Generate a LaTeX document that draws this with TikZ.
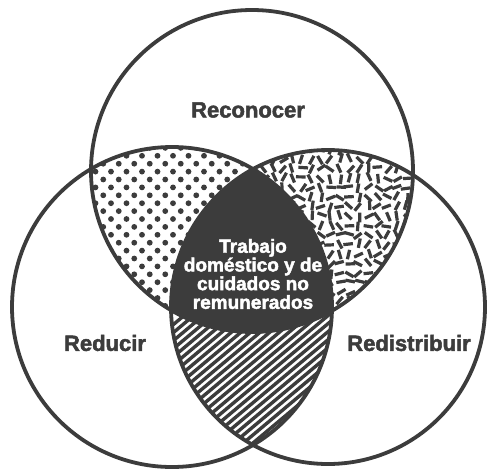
\documentclass[tikz,border=0pt]{standalone}
\usepackage{fontspec}
\setmainfont{Liberation Sans}[BoldFeatures = {FakeBold = 2.2}]

\definecolor{venngray}{HTML}{3C3C3C}

\newcommand{\toprad}{161}
\newcommand{\leftrad}{160}
\newcommand{\rightrad}{157}

\begin{document}
\begin{tikzpicture}[x = 1pt, y = -1pt,
        ring/.style = {draw = venngray, line width = 3.8pt},
        dot/.style = {fill = venngray},
        sprinkle/.style = {draw = venngray, line width = 3.2pt},
        hatchline/.style = {draw = venngray, line width = 3.4pt},
        setname/.style = {text = venngray, font = \bfseries\fontsize{22}{24}\selectfont},
        core/.style = {text = white, align = center, font = \bfseries\fontsize{19}{18.7}\selectfont}]
    \useasboundingbox (0, 0) rectangle (487, 469);

    \coordinate (top) at (252, 171);
    \coordinate (left) at (172, 307);
    \coordinate (right) at (328, 307);

    % dotted lens
    \begin{scope}
        \clip (top) circle [radius = \toprad];
        \clip (left) circle [radius = \leftrad];
        \foreach \i in {0, ..., 28}
            \foreach \j in {0, ..., 13}
                \path [dot] ({80 + 15.5*\j + 7.75*mod(\i, 2)}, {140 + 7.9*\i}) circle [radius = 2.9];
    \end{scope}

    % sprinkled lens
    \pgfmathsetseed{2024}
    \begin{scope}
        \clip (top) circle [radius = \toprad];
        \clip (right) circle [radius = \rightrad];
        \foreach \i in {0, ..., 19}
            \foreach \j in {0, ..., 21} {
                \pgfmathsetmacro{\ang}{180*rnd}
                \pgfmathsetmacro{\sx}{245 + 9.5*\i + 3*rnd - 1.5}
                \pgfmathsetmacro{\sy}{140 + 9.5*\j + 3*rnd - 1.5}
                \path [sprinkle] (\sx, \sy) ++(\ang:4.8) -- ++(\ang + 180:9.6);
            }
    \end{scope}

    % hatched lens
    \begin{scope}
        \clip (left) circle [radius = \leftrad];
        \clip (right) circle [radius = \rightrad];
        \foreach \k in {0, ..., 42}
            \path [hatchline] ({9.6*\k}, 470) -- ++(-40:340);
    \end{scope}

    % centre
    \begin{scope}
        \clip (top) circle [radius = \toprad];
        \clip (left) circle [radius = \leftrad];
        \clip (right) circle [radius = \rightrad];
        \fill [venngray] (0, 0) rectangle (487, 469);
    \end{scope}

    \path [ring] (top) circle [radius = \toprad];
    \path [ring] (left) circle [radius = \leftrad];
    \path [ring] (right) circle [radius = \rightrad];

    \node [setname] (reconocer) at (248, 110) {Reconocer};
    \node [setname] (reducir) at (105, 343) {Reducir};
    \node [setname] (redistribuir) at (409, 343) {Redistribuir};
    \node [core] (trabajo) at (253, 274) {Trabajo\\doméstico y de\\cuidados no\\remunerados};
\end{tikzpicture}
\end{document}
